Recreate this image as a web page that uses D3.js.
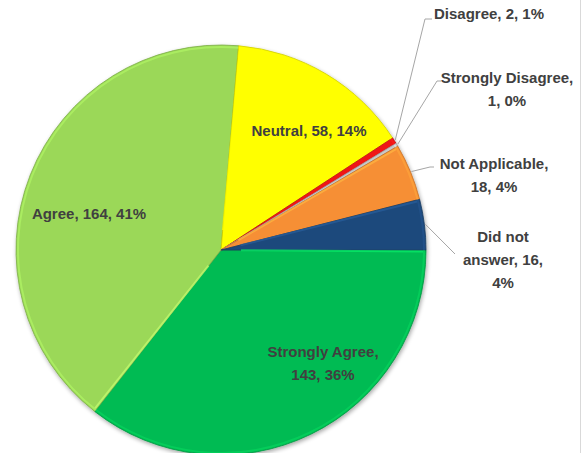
<!DOCTYPE html>
<meta charset="utf-8" />
<style>
  body { margin: 0; background: #fff; overflow: hidden; }
  svg { font: bold 15px "Liberation Sans", sans-serif; }
</style>
<body>
<svg id="chart"></svg>
<script src="https://d3js.org/d3.v7.min.js"></script>
<script>
  var categories = ["Strongly Agree", "Agree", "Neutral", "Disagree", "Strongly Disagree", "Not Applicable", "Did not answer"];
  var counts = [143, 164, 58, 2, 1, 18, 16];
  var percents = ["36%", "41%", "14%", "1%", "0%", "4%", "4%"];
  var colours = ["#06bb52", "#9bd858", "#ffff00", "#f01818", "#c8c8c8", "#f68f34", "#1f4a7b"];

  var width = 587, height = 453;
  var cx = 221, cy = 250, R = 205;

  var svg = d3.select("#chart").attr("width", width).attr("height", height);

  var defs = svg.append("defs");
  var sh = defs.append("filter").attr("id", "shadow").attr("x", "-10%").attr("y", "-10%").attr("width", "120%").attr("height", "120%");
  sh.append("feGaussianBlur").attr("in", "SourceAlpha").attr("stdDeviation", 2).attr("result", "b");
  sh.append("feOffset").attr("in", "b").attr("dx", 1).attr("dy", 2).attr("result", "o");
  sh.append("feComponentTransfer").attr("in", "o").attr("result", "o2")
    .append("feFuncA").attr("type", "linear").attr("slope", 0.35);
  var m = sh.append("feMerge");
  m.append("feMergeNode").attr("in", "o2");
  m.append("feMergeNode").attr("in", "SourceGraphic");

  // right border of the plot frame
  svg.append("line").attr("x1", 580.5).attr("x2", 580.5).attr("y1", 0).attr("y2", height)
    .attr("stroke", "#d9d9d9").attr("stroke-width", 1);

  var data = categories.map(function (c, i) {
    return { name: c, value: counts[i], pct: percents[i], colour: colours[i] };
  });

  var pie = d3.pie().sort(null).value(function (d) { return d.value; })
    .startAngle(Math.PI / 2).endAngle(Math.PI / 2 + 2 * Math.PI);
  var arcs = pie(data);
  var arc = d3.arc().innerRadius(0).outerRadius(R);
  var bevel = d3.arc().innerRadius(R - 3).outerRadius(R - 1);

  var g = svg.append("g").attr("transform", "translate(" + cx + "," + cy + ")");
  var slices = g.append("g").attr("filter", "url(#shadow)");
  slices.selectAll("path.slice").data(arcs).enter().append("path")
    .attr("class", "slice")
    .attr("d", arc)
    .attr("fill", function (d) { return d.data.colour; })
    .attr("stroke", function (d) { return d3.color(d.data.colour).darker(0.6); })
    .attr("stroke-width", 0.8);
  // soft highlight along the rim
  g.selectAll("path.rim").data(arcs).enter().append("path")
    .attr("d", bevel)
    .attr("fill", function (d) { return d3.color(d.data.colour).brighter(0.5); })
    .attr("opacity", 0.5);
  // highlight along the leading edge of each slice
  g.selectAll("line.edge").data(arcs.filter(function (d) { return d.endAngle - d.startAngle > 0.1; }))
    .enter().append("line")
    .attr("x1", function (d) { return Math.sin(d.startAngle + 0.012) * 20; })
    .attr("y1", function (d) { return -Math.cos(d.startAngle + 0.012) * 20; })
    .attr("x2", function (d) { return Math.sin(d.startAngle + 0.008) * (R - 3); })
    .attr("y2", function (d) { return -Math.cos(d.startAngle + 0.008) * (R - 3); })
    .attr("stroke", function (d) { return d3.color(d.data.colour).brighter(0.7); })
    .attr("stroke-width", 2).attr("opacity", 0.7);

  // label layout (Excel best-fit positions)
  var inside = {
    "Strongly Agree": { x: 323, y: 351 },
    "Agree": { x: 89, y: 213 },
    "Neutral": { x: 309, y: 130 }
  };
  var outside = {
    "Disagree": { x: 489, y: 13, elbow: [425, 19], end: [432, 19] },
    "Strongly Disagree": { x: 507, y: 77, elbow: [437, 81], end: [441, 81] },
    "Not Applicable": { x: 494, y: 163, elbow: [430, 167], end: [434, 167] },
    "Did not answer": { x: 503, y: 236, elbow: [455, 254], end: [455, 254] }
  };
  var lineH = 23;

  function lines(d) {
    var n = d.data.name, v = d.data.value, p = d.data.pct;
    if (n === "Strongly Agree") return [n + ",", v + ", " + p];
    if (n === "Strongly Disagree") return [n + ",", v + ", " + p];
    if (n === "Not Applicable") return [n + ",", v + ", " + p];
    if (n === "Did not answer") return ["Did not", "answer, " + v + ",", p];
    return [n + ", " + v + ", " + p];
  }

  var labels = svg.append("g").attr("fill", "#404040").attr("text-anchor", "middle");
  arcs.forEach(function (d) {
    var pos = inside[d.data.name] || outside[d.data.name];
    var t = labels.append("text").attr("x", pos.x).attr("y", pos.y).attr("dominant-baseline", "central");
    lines(d).forEach(function (s, i) {
      t.append("tspan").attr("x", pos.x).attr("y", pos.y + i * lineH).text(s);
    });
    var o = outside[d.data.name];
    if (o) {
      var a = (d.startAngle + d.endAngle) / 2;
      var sx = cx + Math.sin(a) * (R + 1), sy = cy - Math.cos(a) * (R + 1);
      svg.append("polyline")
        .attr("points", [[sx, sy], o.elbow, o.end].map(function (p) { return p.join(","); }).join(" "))
        .attr("fill", "none").attr("stroke", "#a6a6a6").attr("stroke-width", 1);
    }
  });
</script>
</body>
